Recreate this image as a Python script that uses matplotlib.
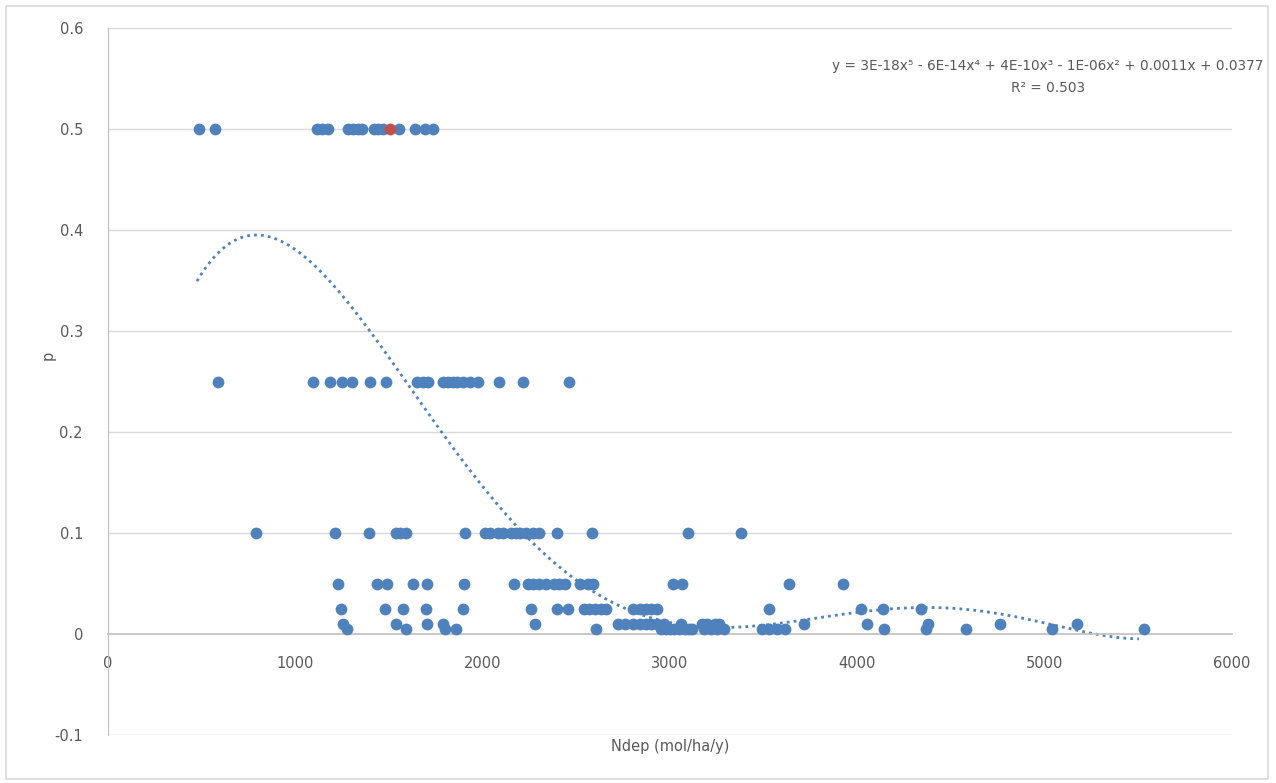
"""
plot.py  —  p vs Ndep scatter with 5th-order polynomial trendline (Excel style)

Run: python3 plot.py
"""

import numpy as np
import matplotlib.pyplot as plt
from matplotlib.patches import Rectangle

BLUE  = "#4f81bd"
RED   = "#c0504d"
GREY  = "#595959"
GRID  = "#d9d9d9"

plt.rcParams.update({"figure.dpi": 100, "font.family": ["DejaVu Sans"],
                     "font.size": 10})

# ── data, grouped by p level ──────────────────────────────────────────
ndep_p500 = [486, 571, 1116, 1142, 1174, 1281, 1308, 1335, 1356, 1420, 1441,
             1468, 1553, 1639, 1692, 1735]
ndep_p250 = [586, 1096, 1185, 1251, 1304, 1399, 1482, 1651, 1683, 1710, 1790,
             1816, 1840, 1861, 1896, 1932, 1974, 2087, 2217, 2461]
ndep_p100 = [788, 1210, 1391, 1537, 1560, 1591, 1904, 2010, 2040, 2080, 2110,
             2150, 2180, 2200, 2230, 2270, 2300, 2396, 2583, 3097, 3381]
ndep_p050 = [1229, 1434, 1488, 1630, 1701, 1902, 2169, 2240, 2270, 2300, 2340,
             2380, 2410, 2440, 2520, 2560, 2590, 3018, 3063, 3634, 3926]
ndep_p025 = [1242, 1479, 1576, 1698, 1893, 2258, 2395, 2457, 2540, 2570, 2600,
             2630, 2660, 2800, 2840, 2870, 2900, 2930, 3526, 4019, 4135, 4341]
ndep_p010 = [1256, 1537, 1701, 1787, 2279, 2720, 2760, 2800, 2840, 2870, 2900,
             2930, 2970, 3060, 3170, 3200, 3240, 3260, 3714, 4054, 4377, 4762,
             5173]
ndep_p005 = [1274, 1589, 1799, 1856, 2605, 2950, 2980, 3000, 3020, 3050, 3080,
             3100, 3120, 3180, 3220, 3250, 3290, 3490, 3530, 3570, 3616, 4144,
             4365, 4579, 5040, 5529]

highlight_x = [1505]
highlight_p = [0.5]

# trendline as drawn in the picture
trend_x = [475, 600, 785, 1025, 1240, 1560, 2200, 2560, 2770, 3100, 3400,
           3714, 4020, 4340, 4630, 4860, 5165, 5503]
trend_p = [0.349, 0.380, 0.392, 0.380, 0.344, 0.25, 0.10, 0.05, 0.027, 0.008,
           0.007, 0.012, 0.022, 0.025, 0.024, 0.017, 0.005, -0.0055]

groups = [(0.5, ndep_p500), (0.25, ndep_p250), (0.1, ndep_p100),
          (0.05, ndep_p050), (0.025, ndep_p025), (0.01, ndep_p010),
          (0.005, ndep_p005)]

x = np.concatenate([np.array(g, float) for _, g in groups])
y = np.concatenate([np.full(len(g), p) for p, g in groups])

# ── smooth the read trendline with a 5th order polynomial ─────────────
tx = np.array(trend_x, float) / 1000.0
coef = np.polyfit(tx, trend_p, 5)
xs = np.linspace(tx.min(), tx.max(), 400)
ys = np.polyval(coef, xs)

# ── chart ─────────────────────────────────────────────────────────────
fig = plt.figure(figsize=(12.76, 7.83))
fig.patches.append(Rectangle((6 / 1276, 4 / 783), 1262 / 1276, 773 / 783,
                             transform=fig.transFigure, fill=False,
                             edgecolor=GRID, linewidth=1.2))
ax = fig.add_axes([108 / 1276, 48 / 783, 1124 / 1276, 707 / 783])

ax.set_xlim(0, 6000)
ax.set_ylim(-0.1, 0.6)
ax.set_yticks(np.arange(-0.1, 0.61, 0.1))
ax.set_xticks(np.arange(0, 6001, 1000))
ax.yaxis.set_major_formatter(plt.FuncFormatter(
    lambda v, _: "0" if abs(v) < 1e-9 else f"{v:.1f}"))

for v in np.arange(-0.1, 0.61, 0.1):
    if abs(v) > 1e-9:
        ax.axhline(v, color=GRID, linewidth=1.0, zorder=0)

for s in ["top", "right"]:
    ax.spines[s].set_visible(False)
ax.spines["left"].set_color("#bfbfbf")
ax.spines["bottom"].set_position(("data", 0))
ax.spines["bottom"].set_color("#bfbfbf")
ax.spines["bottom"].set_linewidth(1.2)
ax.tick_params(length=0, colors=GREY, labelsize=10.5)
ax.tick_params(axis="x", pad=16)
ax.tick_params(axis="y", pad=18)

ax.scatter(x, y, s=72, color=BLUE, linewidths=0, zorder=3)
ax.scatter(highlight_x, highlight_p, s=72, color=RED, linewidths=0, zorder=4)
ax.plot(xs * 1000.0, ys, color=BLUE, linewidth=2, linestyle=(0, (1, 1.5)),
        zorder=2)

fig.text(670 / 1276, 1 - 746 / 783, "Ndep (mol/ha/y)", color=GREY,
         fontsize=10.5, ha="center", va="center")
fig.text(48 / 1276, 1 - 355 / 783, "p", color=GREY, fontsize=10.5,
         ha="center", va="center", rotation=90)

ax.text(0.836, 0.946,
        "y = 3E-18x\u2075 - 6E-14x\u2074 + 4E-10x\u00b3 - 1E-06x\u00b2 + 0.0011x + 0.0377",
        transform=ax.transAxes, ha="center", va="center", color=GREY,
        fontsize=9.8)
ax.text(0.836, 0.915, "R\u00b2 = 0.503", transform=ax.transAxes,
        ha="center", va="center", color=GREY, fontsize=9.8)

fig.savefig("out.png", dpi=100, facecolor="white")
plt.close(fig)
